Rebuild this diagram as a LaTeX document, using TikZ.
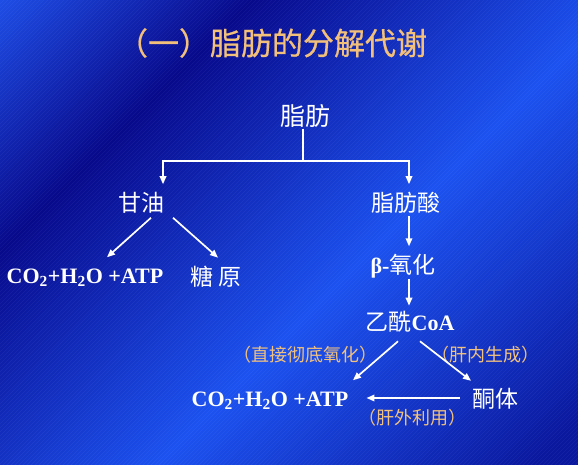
\documentclass[tikz,border=0pt]{standalone}
\usepackage{fontspec}
\setmainfont{Liberation Serif}
\newfontfamily\cjk{Noto Sans CJK SC}
\newfontfamily\cjkt[FakeBold=0.6]{Noto Sans CJK SC}
\usetikzlibrary{arrows.meta,calc}
\definecolor{bgA}{RGB}{30,78,230}
\definecolor{bgD}{RGB}{8,10,140}
\definecolor{bgB}{RGB}{28,82,240}
\definecolor{bgE}{RGB}{10,24,158}
\definecolor{ttlc}{RGB}{242,192,122}
\definecolor{labc}{RGB}{242,194,126}
\begin{document}
\begin{tikzpicture}[x=1pt,y=-1pt,
  ttl/.style={text=ttlc, inner sep=1pt, font=\cjkt\fontsize{31}{31}\selectfont},
  wt/.style={text=white, inner sep=1pt, font=\cjk\fontsize{23}{23}\selectfont},
  lat/.style={text=white, inner sep=1pt, font=\bfseries\fontsize{22}{22}\selectfont},
  lbl/.style={text=labc, inner sep=1pt, font=\cjk\fontsize{18}{18}\selectfont},
  ln/.style={draw=white, line width=1.7pt},
  arr/.style={draw=white, line width=1.7pt, -{Triangle[width=6.5pt,length=8pt]}}]
% background
\useasboundingbox (0,0) rectangle (578,465);
\begin{scope}
\clip (0,0) rectangle (578,465);
\foreach \a/\b/\ca/\cb in {0/250/bgA/bgD, 250/620/bgD/bgB, 620/1000/bgB/bgE, 1000/1050/bgE/bgE} {
  \pgfmathtruncatemacro\n{(\b-\a)/5}
  \pgfmathsetmacro\d{(\b-\a)/\n}
  \foreach \i in {1,...,\n} {
    \pgfmathtruncatemacro\p{100*(\i-0.5)/\n}
    \pgfmathsetmacro\s{\a+(\i-1)*\d}
    \pgfmathsetmacro\w{\d+1}
    \fill[\cb!\p!\ca] (\s,0) -- ++(\w,0) -- ++(-480,480) -- ++(-\w,0) -- cycle;
  }
}
\draw[white, opacity=0.05, line width=0.6pt] \foreach \s in {0,4,...,1048} {(\s,0) -- ++(-480,480)};
\end{scope}
% nodes
\node[ttl] (title) at (272,43) {（一）脂肪的分解代谢};
\node[wt, font=\cjk\fontsize{25}{25}\selectfont] (fat) at (305,116) {脂肪};
\node[wt] (gly) at (141,203) {甘油};
\node[wt] (fa) at (406,203) {脂肪酸};
\node[lat, anchor=base] (co2a) at (85,283) {CO\textsubscript{2}+H\textsubscript{2}O +ATP};
\node[wt] (sugar) at (216,277) {糖 原};
\node[wt] (beta) at (403,266) {{\rmfamily\bfseries\fontsize{22}{22}\selectfont β-}氧化};
\node[wt] (acoa) at (410,322) {乙酰{\rmfamily\bfseries\fontsize{22}{22}\selectfont CoA}};
\node[lat, anchor=base] (co2b) at (270,406) {CO\textsubscript{2}+H\textsubscript{2}O +ATP};
\node[wt] (ket) at (495,399) {酮体};
\node[lbl] (l1) at (305,355) {（直接彻底氧化）};
\node[lbl] (l2) at (485,355) {（肝内生成）};
\node[lbl] (l3) at (412,418) {（肝外利用）};
% connectors
\coordinate (jn) at (303,161);
\coordinate (jl) at (163,161);
\coordinate (jr) at (409,161);
\draw[ln] (fat.south -| jn) -- (jn);
\draw[ln, line cap=rect] (jl) -- (jr);
\draw[arr] (jl) -- ($(jl |- gly.north)+(0,-7)$);
\draw[arr] (jr) -- ($(jr |- fa.north)+(0,-7)$);
\draw[arr] ($(gly.south)+(10,3)$) -- ($(co2a.north)+(22,-10)$);
\draw[arr] ($(gly.south)+(32,3)$) -- ($(sugar.north)+(2,-7.5)$);
\draw[arr] ($(fa.south -| jr)+(0,1.5)$) -- ($(beta.north -| jr)+(0,-6.5)$);
\draw[arr] (beta.south -| jr) -- ($(acoa.north -| jr)+(0,-4.5)$);
\draw[arr] ($(acoa.south)+(-12,7.5)$) -- ($(co2b.north)+(83,-10)$);
\draw[arr] ($(acoa.south)+(10,7.5)$) -- ($(ket.north)+(-24,-6.5)$);
\coordinate (k1) at ($(ket.west)+(-11,-1)$);
\draw[arr] (k1) -- ($(k1 -| co2b.east)+(17,0)$);
\end{tikzpicture}
\end{document}
